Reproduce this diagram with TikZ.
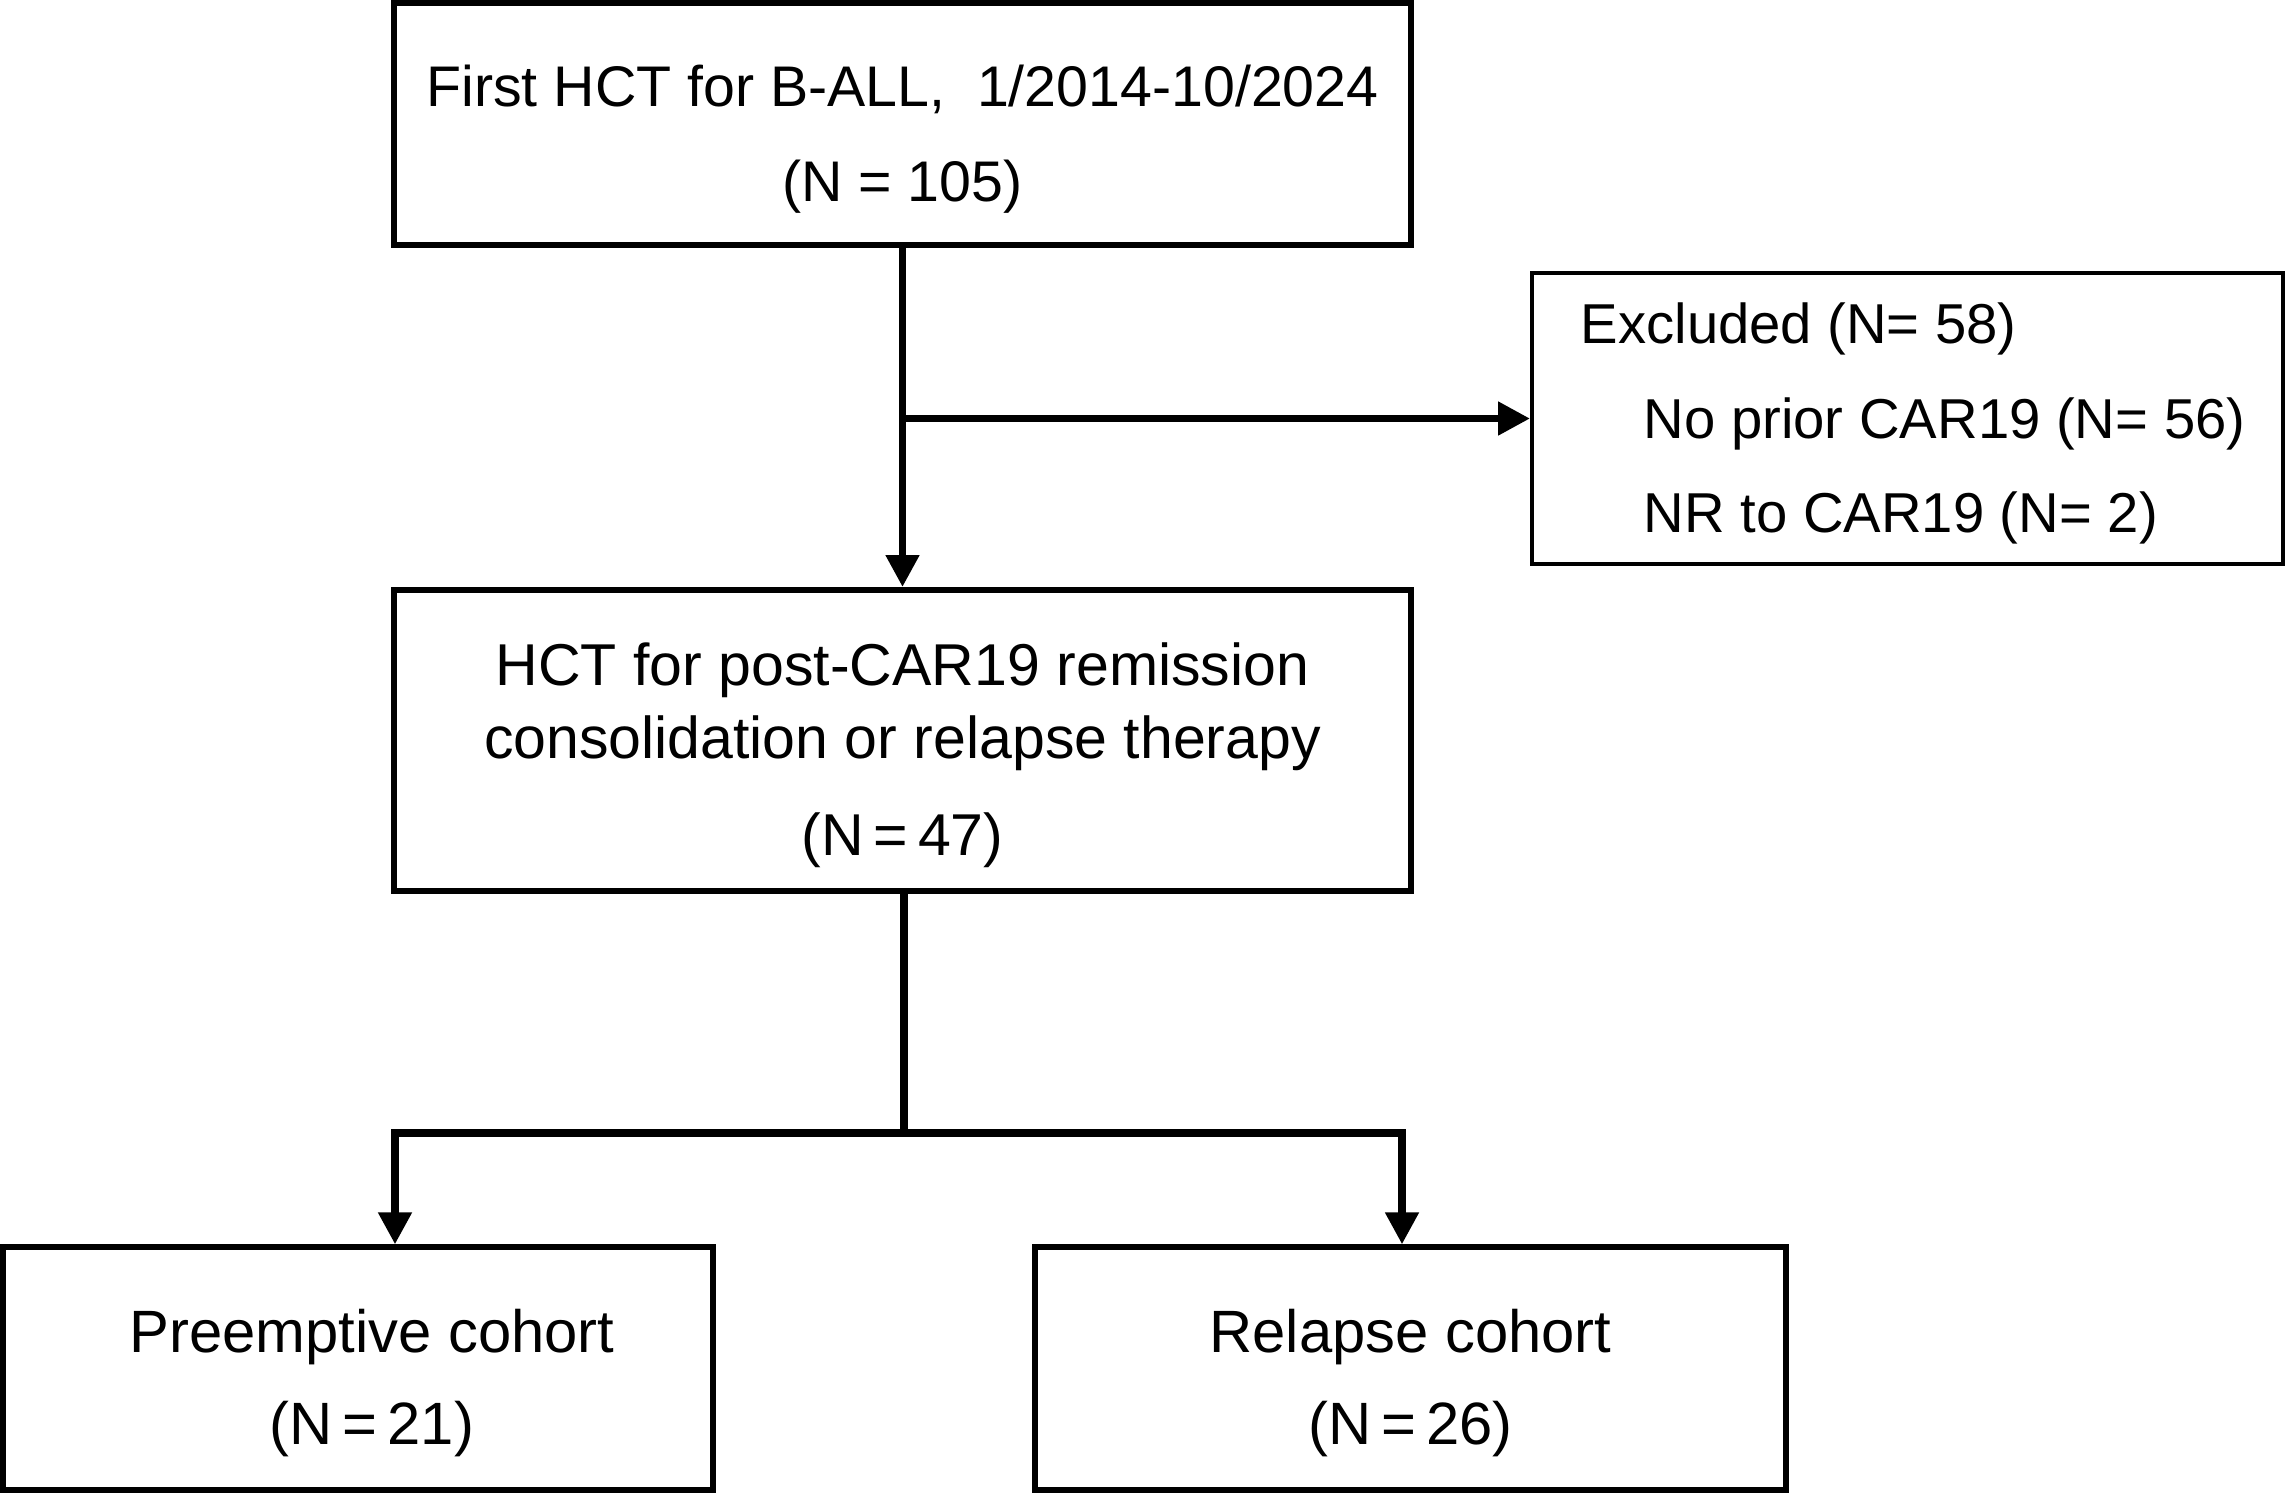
\documentclass[tikz,border=0pt]{standalone}
\usepackage{fontspec}
\setmainfont{Liberation Sans}
\usetikzlibrary{arrows.meta,positioning,calc}
\newcommand{\toppad}{\rule{0pt}{0.72cm}}
\tikzset{
  stagebox/.style = {draw=black, line width=1.7pt, fill=white, align=center, inner sep=0pt},
  exclbox/.style  = {draw=black, line width=1.1pt, fill=white, inner sep=0pt},
  excltext/.style = {align=left, inner sep=0pt, font=\fontsize{16}{27}\selectfont},
  flow/.style     = {-{Triangle[length=3.2mm,width=3.2mm]}, line width=2.2pt},
}
\begin{document}
\begin{tikzpicture}
  \useasboundingbox (0,0) rectangle (22.86,-14.94);
  % boxes
  \node[stagebox,minimum width=10.17cm,minimum height=2.42cm,
        font=\fontsize{16.3}{27}\selectfont] (first) at (9.025,-1.24)
    {\toppad First HCT for B-ALL,~ 1/2014-10/2024\\(N = 105)};
  \node[exclbox,minimum width=7.51cm,minimum height=2.91cm] (excl) at (19.075,-4.185) {};
  \node[excltext,anchor=west] (excltxt) at ($(excl.west)+(0.5,-0.05)$)
    {Excluded (N= 58)\\\hspace*{0.63cm}No prior CAR19 (N= 56)\\\hspace*{0.63cm}NR to CAR19 (N= 2)};
  \node[stagebox,minimum width=10.17cm,minimum height=3.01cm,
        font=\fontsize{16.8}{20.8}\selectfont] (post) at (9.025,-7.405)
    {\toppad HCT for post-CAR19 remission\\consolidation or relapse therapy\\[6.8pt](N\,=\,47)};
  \node[stagebox,line width=1.5pt,minimum width=7.10cm,minimum height=2.43cm,
        font=\fontsize{17}{26}\selectfont] (pre) at (3.58,-13.685)
    {\toppad\hspace*{0.28cm}Preemptive cohort\\\hspace*{0.28cm}(N\,=\,21)};
  \node[stagebox,line width=1.5pt,minimum width=7.51cm,minimum height=2.43cm,
        font=\fontsize{17}{26}\selectfont] (rel) at (14.105,-13.685)
    {\toppad Relapse cohort\\(N\,=\,26)};
  % connectors
  \draw[flow] (first.south) -- (post.north);
  \coordinate (branch) at (first.south |- excl.west);
  \draw[flow] (branch) -- (excl.west);
  \coordinate (split) at (9.04,-11.33);
  \coordinate (splitl) at (3.95,-11.33);
  \coordinate (splitr) at (14.02,-11.33);
  \draw[line width=2.2pt] (post.south -| split) -- (split);
  \draw[flow] (split) -- (splitl) -- (splitl |- pre.north);
  \draw[flow] (split) -- (splitr) -- (splitr |- rel.north);
\end{tikzpicture}
\end{document}
